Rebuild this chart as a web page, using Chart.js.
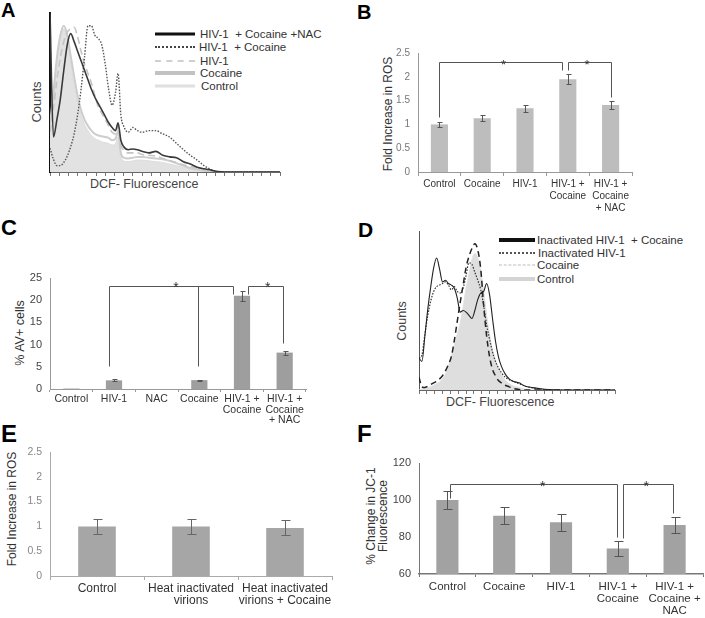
<!DOCTYPE html>
<html>
<head>
<meta charset="utf-8">
<script src="https://cdn.jsdelivr.net/npm/chart.js@4.4.0/dist/chart.umd.min.js"></script>
<style>
  body { margin: 0; background: #fff; width: 705px; height: 618px; position: relative; overflow: hidden;
         font-family: "Liberation Sans", Arial, sans-serif; }
  canvas { position: absolute; }
  .lbl { position: absolute; font-weight: bold; color: #000; line-height: 1; }
  .t { position: absolute; color: #333; font-size: 12px; line-height: 1; white-space: nowrap; }
  .rot { transform: translate(-50%, -50%) rotate(-90deg); text-align: center; }
  .row { position: absolute; height: 0; }
  .row i { position: absolute; left: 0; top: 0; transform: translateY(-50%); }
  .row span { position: absolute; top: 0; transform: translateY(-50%); font-size: 11.5px; color: #333; white-space: nowrap; }
</style>
</head>
<body>
<div class="lbl" style="left:1px;top:0px;font-size:20px">A</div>
<div class="lbl" style="left:357px;top:2px;font-size:20px">B</div>
<div class="lbl" style="left:1px;top:217px;font-size:22px">C</div>
<div class="lbl" style="left:358px;top:219px;font-size:21px">D</div>
<div class="lbl" style="left:1px;top:422px;font-size:24px">E</div>
<div class="lbl" style="left:357px;top:422px;font-size:24px">F</div>

<div class="t rot" style="left:36px;top:102px;font-size:13px;color:#444">Counts</div>
<div class="t" style="left:90px;top:178px;font-size:12.5px;color:#444">DCF- Fluorescence</div>
<div class="t rot" style="left:388px;top:114px">Fold Increase in ROS</div>
<div class="t rot" style="left:20px;top:333px;font-size:12.5px">% AV+ cells</div>
<div class="t rot" style="left:402px;top:321px;font-size:12.5px;color:#444">Counts</div>
<div class="t" style="left:446px;top:396px;font-size:12.5px;color:#444">DCF- Fluorescence</div>
<div class="t rot" style="left:12px;top:509px">Fold Increase in ROS</div>
<div class="t rot" style="left:377px;top:516px;line-height:12px">% Change in JC-1<br>Fluorescence</div>

<div id="legA"></div>
<div id="legD"></div>

<canvas id="chartA" width="355" height="200" style="left:0;top:0"></canvas>
<canvas id="chartB" width="345" height="218" style="left:360px;top:0"></canvas>
<canvas id="chartC" width="355" height="210" style="left:0;top:218px"></canvas>
<canvas id="chartD" width="345" height="192" style="left:360px;top:218px"></canvas>
<canvas id="chartE" width="355" height="188" style="left:0;top:430px"></canvas>
<canvas id="chartF" width="345" height="188" style="left:360px;top:430px"></canvas>

<script>
// ---------- data ----------
const catsB = ["Control", "Cocaine", "HIV-1", ["HIV-1 +", "Cocaine"], ["HIV-1 +", "Cocaine", "+ NAC"]];
const rosB = [1.0, 1.13, 1.34, 1.95, 1.41];
const errB = [0.05, 0.06, 0.07, 0.11, 0.08];

const catsC = ["Control", "HIV-1", "NAC", "Cocaine", ["HIV-1 +", "Cocaine"], ["HIV-1 +", "Cocaine", "+ NAC"]];
const avC = [0.1, 1.95, 0, 2.0, 21.0, 8.2];
const errC = [0, 0.25, 0, 0.1, 1.1, 0.45];

const catsE = ["Control", ["Heat inactivated", "virions"], ["Heat inactivated", "virions + Cocaine"]];
const rosE = [1.0, 1.0, 0.97];
const errE = [0.15, 0.15, 0.15];

const catsF = ["Control", "Cocaine", "HIV-1", ["HIV-1 +", "Cocaine"], ["HIV-1 +", "Cocaine +", "NAC"]];
const jcF = [100, 91.5, 88, 73.8, 86.5];
const errF = [5, 4.5, 4.6, 3.8, 4.2];

// significance brackets: horizontal level, legs [category, lower end], star position
const bracketsB = [
  { y: 2.32, legs: [[0, 1.16], [2.86, 2.14]], star: 1.5 },
  { y: 2.32, legs: [[3, 2.14], [4, 1.58]], star: 3.45 },
];
const bracketsC = [
  { y: 23.2, legs: [[0.89, 5.2], [2.98, 5.2], [3.8, 21.5]], star: 2.45 },
  { y: 23.2, legs: [[4.15, 21.5], [4.97, 10.3]], star: 4.6 },
];
const bracketsF = [
  { y: 108.9, legs: [[0.05, 101], [2.98, 80]], star: 1.68 },
  { y: 108.4, legs: [[3.1, 79.3], [3.98, 93]], star: 3.5 },
];

// DCF histograms, A (fluorescence channel as % of axis, counts as % of max)
const channelsA = [0, 1.5, 3, 4.5, 6, 7.5, 9, 10.5, 12, 13.5, 15, 16.5, 18, 19.5, 21, 22.5, 24, 25.5, 27, 28.5,
  29.6, 30.8, 32, 34, 36, 38, 40, 43, 46, 49, 52, 55, 58, 61, 64, 67, 70, 73, 76, 80, 90, 100];
const hivCocNacA = [100, 22, 33, 46, 64, 80, 87, 82, 76, 70, 64, 58, 52, 47, 43, 39, 35, 31, 28, 26,
  31, 20, 16, 14, 14.5, 14, 13, 12, 13, 10.5, 9.5, 9, 6.5, 5, 3, 2, 1.2, 0.3, 0, 0, 0, 0];
const hivCocA = [15, 8, 4, 4, 6, 10, 16, 24, 36, 52, 72, 92, 92, 86, 84, 80, 68, 52, 42, 50,
  62, 36, 29, 25, 28, 26, 25, 26, 26, 24, 22, 18, 14, 10.5, 7.5, 4, 1.5, 0.2, 0, 0, 0, 0];
const hivA = [25, 40, 58, 72, 82, 88, 90, 91, 85, 76, 68, 62, 56, 48, 41, 37, 33, 29, 25, 24,
  29, 17, 14, 12, 12, 12, 11, 10.5, 10, 8.5, 7, 6, 4.5, 3.5, 2.5, 1.5, 0.6, 0, 0, 0, 0, 0];
const cocA = [30, 50, 72, 86, 92, 86, 73, 60, 48, 39, 33, 29, 26, 24, 23, 22.5, 22, 21.5, 20, 21,
  26, 12, 9, 8.5, 9, 9.5, 9.5, 9, 8.5, 8, 7, 5.5, 4, 2.5, 1.5, 0.8, 0.3, 0, 0, 0, 0, 0];
const ctrlA = [28, 48, 70, 85, 90, 83, 68, 55, 44, 36, 30, 26, 23, 21, 20, 19, 18.5, 18, 17, 18,
  22, 10, 7, 6.5, 7, 7.5, 7.5, 7, 6.5, 6, 5, 4, 3, 2, 1.2, 0.6, 0.2, 0, 0, 0, 0, 0];

// DCF histograms, D
const channelsD = [0, 1.5, 3, 4.5, 6, 7.5, 9, 10.5, 12, 13.5, 15, 16.5, 18, 19.5, 21, 22.5, 24, 25.5, 27, 28.5,
  30, 31.5, 33, 34.5, 36, 37.5, 39, 40.5, 42, 44, 46, 48, 51, 54, 58, 62, 66, 70, 80, 90, 100];
const inactCocD = [20, 18, 34, 51, 65, 77, 83, 76, 68, 69, 67, 66, 64, 58, 49, 50, 49, 47, 45, 50,
  57, 61, 62, 67, 60, 45, 31, 21, 15, 10, 7, 5.5, 4.5, 2.5, 1.5, 0.8, 0.3, 0, 0, 0, 0];
const inactD = [20, 22, 35, 47, 56, 62, 65, 66, 67, 68, 66, 63, 65, 62, 61, 64, 72, 80, 79, 74,
  69, 63, 53, 41, 32, 24, 18, 14, 11, 8, 6.5, 5.5, 4, 2.5, 1.3, 0.6, 0, 0, 0, 0, 0];
const cocD = [8, 2, 1.5, 2.5, 3.5, 4.5, 5.5, 7, 9, 12, 16, 21, 31, 43, 55, 66, 77, 84, 89, 92,
  88, 76, 53, 34, 21, 13, 9, 6, 4.5, 3, 2, 1, 0.3, 0, 0, 0, 0, 0, 0, 0, 0];
const ctrlD = [0, 0.5, 1, 1.5, 2, 3, 4, 5, 7, 10, 15, 21, 28, 35, 42, 52, 64, 73, 82, 86,
  83, 75, 62, 47, 35, 25, 19, 14, 10, 6, 4, 2.5, 1.5, 0.5, 0, 0, 0, 0, 0, 0, 0];

// ---------- helpers ----------
Chart.defaults.font.family = "'Liberation Sans', Arial, sans-serif";
Chart.defaults.color = "#444";

const pts = (xs, ys) => xs.map((x, i) => ({ x: x, y: ys[i] }));

// error bars + brackets drawn in data space
const marks = {
  id: "marks",
  afterDatasetsDraw(chart, args, o) {
    const ctx = chart.ctx, xs = chart.scales.x, ys = chart.scales.y;
    const r = (v) => Math.round(v) + 0.5;
    ctx.save();
    ctx.lineWidth = 1;
    ctx.strokeStyle = o.color;
    const vals = chart.data.datasets[0].data;
    (o.errors || []).forEach((e, i) => {
      if (!e) return;
      const x = r(xs.getPixelForValue(i));
      const y1 = r(ys.getPixelForValue(vals[i] + e));
      const y2 = r(ys.getPixelForValue(vals[i] - e));
      ctx.beginPath();
      ctx.moveTo(x, y1); ctx.lineTo(x, y2);
      ctx.moveTo(x - o.cap, y1); ctx.lineTo(x + o.cap + 1, y1);
      ctx.moveTo(x - o.cap, y2); ctx.lineTo(x + o.cap + 1, y2);
      ctx.stroke();
    });
    ctx.fillStyle = "#333";
    ctx.font = o.starFont;
    ctx.textAlign = "center";
    (o.brackets || []).forEach((b) => {
      const y = r(ys.getPixelForValue(b.y));
      const px = b.legs.map((l) => r(xs.getPixelForValue(l[0])));
      ctx.beginPath();
      ctx.moveTo(Math.min(...px), y);
      ctx.lineTo(Math.max(...px), y);
      b.legs.forEach((l, k) => {
        ctx.moveTo(px[k], y);
        ctx.lineTo(px[k], r(ys.getPixelForValue(l[1])));
      });
      ctx.stroke();
      ctx.fillText("*", xs.getPixelForValue(b.star), y + o.starDy);
    });
    ctx.restore();
  },
};

// place the plot area of a chart exactly inside its canvas
function frame(cv, area) {
  return {
    padding: { top: area.t - cv.y, right: cv.x + cv.w - area.r, left: 0, bottom: 0 },
    fitX: (s) => { s.height = cv.y + cv.h - area.b; },
    fitY: (s) => { s.width = area.l - cv.x; },
  };
}

function barChart(id, cv, area, cats, vals, st) {
  const f = frame(cv, area);
  return new Chart(document.getElementById(id), {
    type: "bar",
    data: { labels: cats, datasets: [{ data: vals, backgroundColor: st.bar, borderWidth: 0,
      categoryPercentage: 1, barPercentage: st.barPct }] },
    options: {
      responsive: false, animation: false, events: [], devicePixelRatio: 1,
      layout: { padding: f.padding },
      plugins: { legend: { display: false }, tooltip: { enabled: false }, marks: st.marks },
      scales: {
        x: {
          afterFit: f.fitX,
          grid: { display: true, drawOnChartArea: false, drawTicks: true, tickLength: st.tickLen, color: st.axis },
          border: { color: st.axis, width: st.xw || 1 },
          ticks: { color: st.xc, font: { size: st.xf, lineHeight: st.xlh }, padding: st.xpad, maxRotation: 0, autoSkip: false },
        },
        y: {
          afterFit: f.fitY,
          min: st.min, max: st.max,
          grid: { display: false, drawTicks: false },
          border: { color: st.axis, width: 1 },
          ticks: { stepSize: st.step, color: st.yc, font: { size: st.yf }, padding: 8, callback: (v) => String(v) },
        },
      },
    },
    plugins: [marks],
  });
}

function histChart(id, cv, area, sets, st) {
  const f = frame(cv, area);
  return new Chart(document.getElementById(id), {
    type: "line",
    data: { datasets: sets },
    options: {
      responsive: false, animation: false, events: [], devicePixelRatio: 1,
      layout: { padding: f.padding },
      elements: { point: { radius: 0 }, line: { cubicInterpolationMode: "monotone" } },
      plugins: { legend: { display: false }, tooltip: { enabled: false } },
      scales: {
        x: {
          type: "linear", min: 0, max: 100, afterFit: f.fitX,
          grid: { display: true, drawOnChartArea: false, drawTicks: true, tickLength: 4, color: "#777" },
          border: { color: "#666", width: 1 },
          ticks: { stepSize: 4, callback: () => "" },
        },
        y: {
          min: 0, max: 100, afterFit: f.fitY,
          grid: { display: false, drawTicks: false },
          border: { color: st.yAxis, width: st.yw },
          ticks: { display: false },
        },
      },
    },
  });
}

function legend(id, x, rows) {
  const el = document.getElementById(id);
  rows.forEach((row) => {
    const d = document.createElement("div");
    d.className = "row";
    d.style.left = x + "px";
    d.style.top = row.y + "px";
    d.innerHTML = '<i style="width:' + row.w + 'px;border-top:' + row.line + '"></i>' +
      '<span style="left:' + row.tx + 'px">' + row.text + "</span>";
    el.appendChild(d);
  });
}

// ---------- A ----------
histChart("chartA", { x: 0, y: 0, w: 355, h: 200 }, { l: 50, t: 13, r: 280, b: 172 }, [
  { data: pts(channelsA, hivCocNacA), borderColor: "#3a3a3a", borderWidth: 1.6, fill: false },
  { data: pts(channelsA, hivCocA), borderColor: "#555", borderWidth: 1.4, borderDash: [1.5, 1.5], fill: false },
  { data: pts(channelsA, hivA), borderColor: "#c4c4c4", borderWidth: 1.6, borderDash: [7, 4], fill: false },
  { data: pts(channelsA, cocA), borderColor: "#cdcdcd", borderWidth: 2, fill: false },
  { data: pts(channelsA, ctrlA), borderColor: "#dcdcdc", borderWidth: 1, backgroundColor: "#e2e2e2", fill: "origin" },
], { yAxis: "#111", yw: 2 });

legend("legA", 155, [
  { y: 34, w: 40, tx: 45, line: "3px solid #111", text: "HIV-1&nbsp; + Cocaine +NAC" },
  { y: 46.5, w: 40, tx: 44, line: "2px dotted #444", text: "HIV-1&nbsp; + Cocaine" },
  { y: 61, w: 40, tx: 45, line: "2px dashed #d0d0d0", text: "HIV-1" },
  { y: 72.5, w: 40, tx: 45, line: "4px solid #c2c2c2", text: "Cocaine" },
  { y: 86, w: 40, tx: 46, line: "3px solid #e0e0e0", text: "Control" },
]);

// ---------- B ----------
barChart("chartB", { x: 360, y: 0, w: 345, h: 218 }, { l: 418, t: 53, r: 632, b: 172 }, catsB, rosB, {
  bar: "#bdbdbd", barPct: 0.4, axis: "#999", tickLen: 4, xc: "#333", xf: 10, xlh: 1.2, xpad: 2,
  min: 0, max: 2.5, step: 0.5, yc: "#777", yf: 10,
  marks: { errors: errB, brackets: bracketsB, cap: 2, color: "#555", starFont: "13px 'Liberation Sans', Arial", starDy: 6 },
});

// ---------- C ----------
barChart("chartC", { x: 0, y: 218, w: 355, h: 210 }, { l: 50, t: 278, r: 306, b: 389 }, catsC, avC, {
  bar: "#9e9e9e", barPct: 0.38, axis: "#999", tickLen: 3, xc: "#333", xf: 10.5, xlh: 1.0, xpad: 2,
  min: 0, max: 25, step: 5, yc: "#444", yf: 11,
  marks: { errors: errC, brackets: bracketsC, cap: 2, color: "#555", starFont: "14px 'Liberation Sans', Arial", starDy: 5 },
});

// ---------- D ----------
histChart("chartD", { x: 360, y: 218, w: 345, h: 192 }, { l: 419, t: 231, r: 615, b: 390 }, [
  { data: pts(channelsD, inactCocD), borderColor: "#222", borderWidth: 1.1, fill: false },
  { data: pts(channelsD, inactD), borderColor: "#333", borderWidth: 1.2, borderDash: [1.5, 1.5], fill: false },
  { data: pts(channelsD, cocD), borderColor: "#222", borderWidth: 1.5, borderDash: [6, 4], fill: false },
  { data: pts(channelsD, ctrlD), borderColor: "#e0e0e0", borderWidth: 1, backgroundColor: "#dedede", fill: "origin" },
], { yAxis: "#555", yw: 1 });

legend("legD", 499, [
  { y: 240, w: 36, tx: 38, line: "4px solid #111", text: "Inactivated HIV-1&nbsp; + Cocaine" },
  { y: 253, w: 36, tx: 39, line: "2px dotted #555", text: "Inactivated HIV-1" },
  { y: 265, w: 36, tx: 38, line: "1px dashed #bbb", text: "Cocaine" },
  { y: 279, w: 36, tx: 38, line: "4px solid #d4d4d4", text: "Control" },
]);

// ---------- E ----------
barChart("chartE", { x: 0, y: 430, w: 355, h: 188 }, { l: 50, t: 452, r: 332, b: 576 }, catsE, rosE, {
  bar: "#a6a6a6", barPct: 0.4, axis: "#aaa", tickLen: 4, xc: "#333", xf: 12, xlh: 1.0, xpad: 3,
  min: 0, max: 2.5, step: 0.5, yc: "#888", yf: 10.5,
  marks: { errors: errE, cap: 4, color: "#666" },
});

// ---------- F ----------
barChart("chartF", { x: 360, y: 430, w: 345, h: 188 }, { l: 419, t: 463, r: 703, b: 574 }, catsF, jcF, {
  bar: "#a2a2a2", barPct: 0.39, axis: "#777", xw: 1.5, tickLen: 3, xc: "#333", xf: 11.5, xlh: 1.04, xpad: 4,
  min: 60, max: 120, step: 20, yc: "#444", yf: 11,
  marks: { errors: errF, brackets: bracketsF, cap: 4, color: "#555", starFont: "14px 'Liberation Sans', Arial", starDy: 6 },
});
</script>
</body>
</html>
